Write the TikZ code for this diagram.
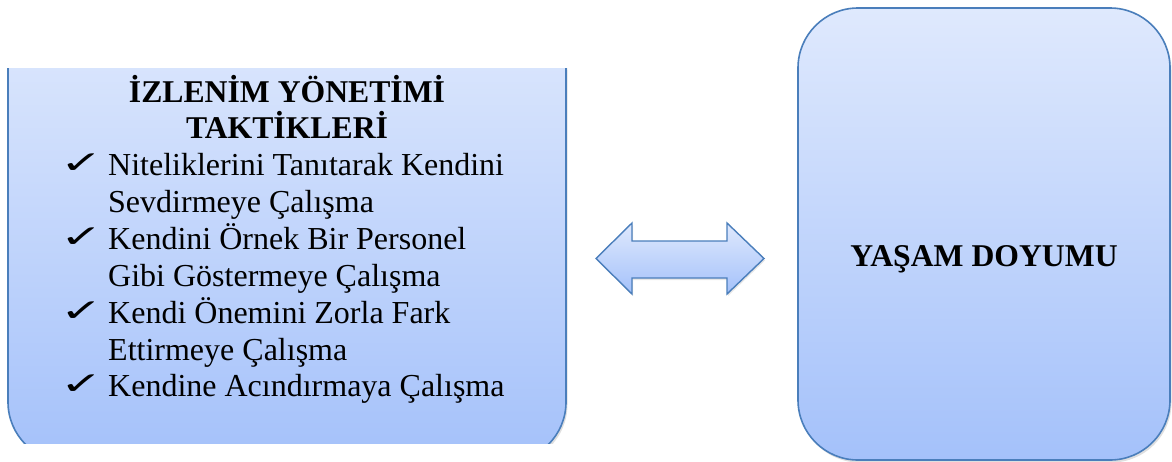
\documentclass[tikz,border=0pt]{standalone}
\usepackage{fontspec}
\setmainfont{Liberation Serif}
\newfontfamily\symf{DejaVu Sans}
\usetikzlibrary{shadows}
\definecolor{bordc}{HTML}{4A7EBB}
\definecolor{topc}{HTML}{DFE9FD}
\definecolor{botc}{HTML}{A4C1FA}
\tikzset{
  boxst/.style={draw=bordc, line width=1.6pt, top color=topc, bottom color=botc,
    rounded corners=60pt, drop shadow={opacity=0.25, shadow xshift=1.5pt, shadow yshift=-2.5pt}},
  arrowst/.style={draw=bordc, line width=1.4pt, top color=topc, bottom color=botc, line join=miter,
    drop shadow={opacity=0.2, shadow xshift=1pt, shadow yshift=-2pt}},
  txt/.style={anchor=base west, inner sep=0pt, font=\fontsize{32}{37}\selectfont},
  ttl/.style={anchor=base, inner sep=0pt, font=\fontsize{31.7}{37}\selectfont\bfseries},
  chk/.style={anchor=base west, inner sep=0pt, font=\fontsize{34}{38}\selectfont\symf\bfseries, xscale=1.5, yscale=0.92}
}
\begin{document}
\begin{tikzpicture}[x=1pt,y=-1pt]
\useasboundingbox (0,0) rectangle (1172,461);
% left box (clipped)
\begin{scope}
  \clip (0,68) rectangle (600,443);
  \path[boxst] (8,8) rectangle (566,462);
\end{scope}
% right box
\path[boxst] (798,8) rectangle (1170,460);
% double block arrow
\path[arrowst] (596,258.5) -- (632,223) -- (632,241) -- (727,241) -- (727,223) -- (764,258.5)
  -- (727,294) -- (727,278) -- (632,278) -- (632,294) -- cycle;
% texts
\node[ttl] (t1) at (287,102) {İZLENİM YÖNETİMİ};
\node[ttl] (t2) at (287,138) {TAKTİKLERİ};
\node[chk] (c1) at (60,173) {✓};
\node[txt] (l1) at (108,175) {Niteliklerini Tanıtarak Kendini};
\node[txt] (l2) at (108,212) {Sevdirmeye Çalışma};
\node[chk] (c2) at (60,247) {✓};
\node[txt] (l3) at (108,249) {Kendini Örnek Bir Personel};
\node[txt] (l4) at (108,286) {Gibi Göstermeye Çalışma};
\node[chk] (c3) at (60,321) {✓};
\node[txt] (l5) at (108,323) {Kendi Önemini Zorla Fark};
\node[txt] (l6) at (108,360) {Ettirmeye Çalışma};
\node[chk] (c4) at (60,394) {✓};
\node[txt] (l7) at (108,396) {Kendine Acındırmaya Çalışma};
\node[ttl] (yd) at (984,266) {YAŞAM DOYUMU};
\end{tikzpicture}
\end{document}
